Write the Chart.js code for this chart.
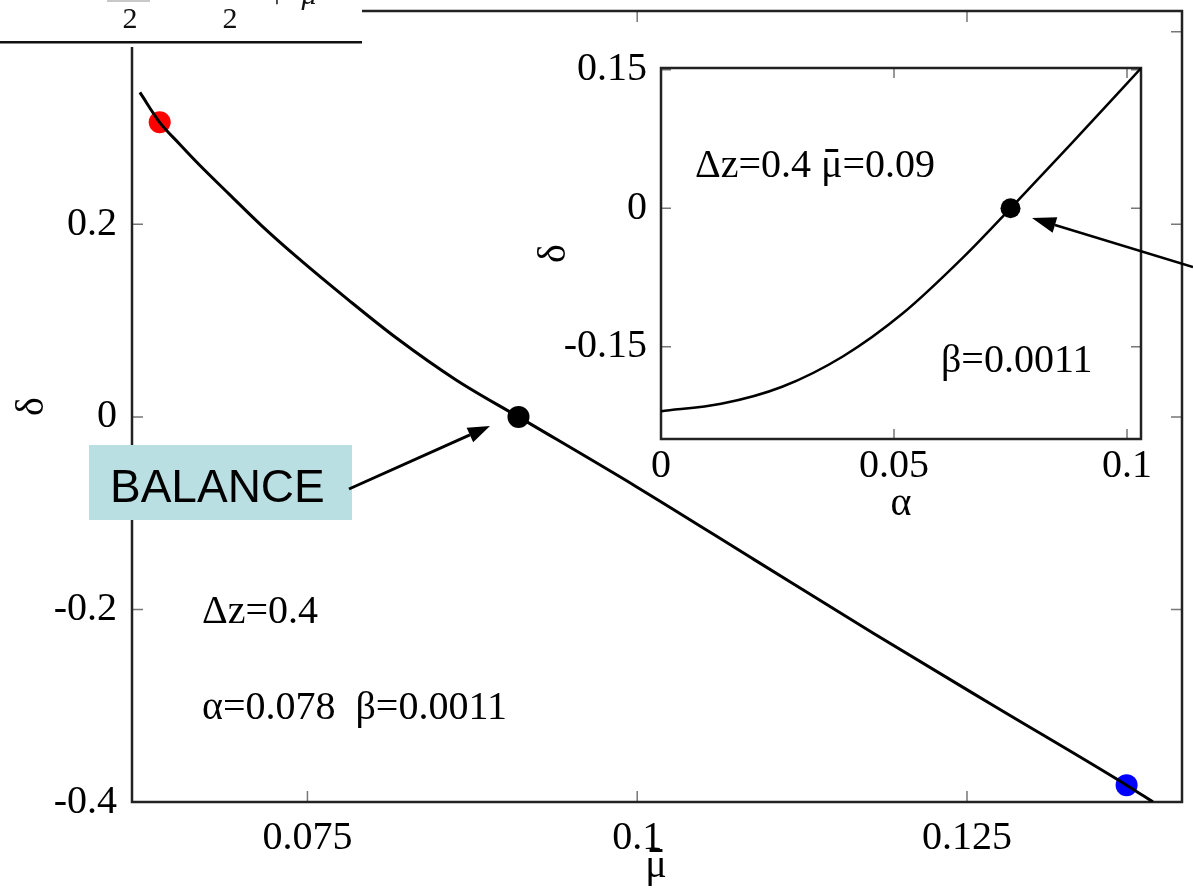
<!DOCTYPE html>
<html>
<head>
<meta charset="utf-8">
<script src="https://cdn.jsdelivr.net/npm/chart.js@4/dist/chart.umd.min.js"></script>
<style>
  html, body { margin: 0; padding: 0; background: #fff; }
  #wrap { position: relative; width: 1193px; height: 891px; overflow: hidden; }
  #main { position: absolute; left: 0; top: 0; }
  #inset { position: absolute; left: 530px; top: 40px; }
</style>
</head>
<body>
<div id="wrap">
  <canvas id="main" width="1193" height="891" style="width:1193px;height:891px"></canvas>
  <canvas id="inset" width="663" height="500" style="width:663px;height:500px"></canvas>
</div>
<script>
// main curve: delta against mu-bar
const muBar = [0.0623, 0.0638, 0.0653, 0.0668, 0.0691, 0.0715, 0.0743, 0.0781, 0.0818, 0.0863,
  0.0910, 0.0999, 0.1089, 0.1179, 0.1269, 0.1371, 0.1391];
const deltaMain = [0.337, 0.306, 0.2835, 0.2619, 0.2309, 0.199, 0.1649, 0.1216, 0.0814, 0.0381,
  0.0, -0.0722, -0.1485, -0.2247, -0.2990, -0.3825, -0.400];

// marked points on the main curve
const markMu = [0.0638, 0.0910, 0.1371];
const markDelta = [0.306, 0.0, -0.3825];
const markColors = ['#ff0000', '#000000', '#0000ff'];

// inset curve: delta against alpha
const alpha = [0, 0.0129, 0.026, 0.0391, 0.0519, 0.065, 0.075, 0.0878, 0.1030];
const deltaInset = [-0.2199, -0.2119, -0.1934, -0.1603, -0.1138, -0.0524, 0.0, 0.0688, 0.1517];
const insetMarkAlpha = [0.075];
const insetMarkDelta = [0.0];

// tick values and labels
const mainXTicks = [0.075, 0.1, 0.125];
const mainXLabels = ['0.075', '0.1', '0.125'];
const mainYTicks = [-0.4, -0.2, 0, 0.2, 0.4];
const mainYLabels = ['-0.4', '-0.2', '0', '0.2', '0.4'];
const insetXTicks = [0, 0.05, 0.1];
const insetXLabels = ['0', '0.05', '0.1'];
const insetYTicks = [-0.15, 0, 0.15];
const insetYLabels = ['-0.15', '0', '0.15'];

const serif = "'Liberation Serif', 'Times New Roman', serif";

function toPoints(xs, ys) {
  return xs.map((v, i) => ({x: v, y: ys[i]}));
}

// force the axis box size and drop the label overflow padding
function fixSize(size, horizontal) {
  return function(scale) {
    if (horizontal) scale.height = size; else scale.width = size;
    scale.paddingLeft = 0; scale.paddingRight = 0;
    scale.paddingTop = 0; scale.paddingBottom = 0;
  };
}

function setTicks(values) {
  return function(scale) {
    scale.ticks = values.map(v => ({value: v}));
  };
}

// gnuplot style frame with inward ticks on all four sides
function drawFrame(chart, xT, yT, len, tickColor) {
  const {ctx, chartArea: a, scales: {x, y}} = chart;
  ctx.save();
  ctx.strokeStyle = tickColor;
  ctx.lineWidth = 1.5;
  ctx.beginPath();
  xT.forEach(v => {
    const px = x.getPixelForValue(v);
    ctx.moveTo(px, a.bottom); ctx.lineTo(px, a.bottom - len);
    ctx.moveTo(px, a.top); ctx.lineTo(px, a.top + len);
  });
  yT.forEach(v => {
    const py = y.getPixelForValue(v);
    ctx.moveTo(a.left, py); ctx.lineTo(a.left + len, py);
    ctx.moveTo(a.right, py); ctx.lineTo(a.right - len, py);
  });
  ctx.stroke();
  ctx.strokeStyle = '#222';
  ctx.lineWidth = 2.5;
  ctx.strokeRect(a.left, a.top, a.width, a.height);
  ctx.restore();
}

function arrow(ctx, x1, y1, x2, y2, lw, hl, hw) {
  const ang = Math.atan2(y2 - y1, x2 - x1);
  const bx = x2 - hl * Math.cos(ang);
  const by = y2 - hl * Math.sin(ang);
  ctx.strokeStyle = '#000';
  ctx.fillStyle = '#000';
  ctx.lineWidth = lw;
  ctx.beginPath();
  ctx.moveTo(x1, y1);
  ctx.lineTo(bx, by);
  ctx.stroke();
  ctx.beginPath();
  ctx.moveTo(x2, y2);
  ctx.lineTo(bx + hw * Math.sin(ang), by - hw * Math.cos(ang));
  ctx.lineTo(bx - hw * Math.sin(ang), by + hw * Math.cos(ang));
  ctx.closePath();
  ctx.fill();
}

// mu with a bar drawn over it (left aligned at x, on baseline y)
function muBarText(ctx, x, y) {
  const w = ctx.measureText('μ').width;
  ctx.fillText('μ', x, y);
  ctx.fillRect(x + w * 0.2, y - 28, w * 0.6, 3);
  return w;
}

function markerSets(xs, ys, colors, r) {
  return xs.map((v, i) => ({
    data: [{x: v, y: ys[i]}],
    pointRadius: r,
    pointBackgroundColor: colors[i],
    pointBorderWidth: 0,
    showLine: false
  }));
}

// ---------- main chart ----------
const mainPlugin = {
  id: 'mainDecor',
  beforeDatasetsDraw(chart) {
    drawFrame(chart, mainXTicks, mainYTicks, 11, '#777');
  },
  afterDraw(chart) {
    const ctx = chart.ctx;
    ctx.save();
    ctx.fillStyle = '#000';
    ctx.textBaseline = 'alphabetic';
    ctx.textAlign = 'left';
    ctx.font = '40px ' + serif;
    ctx.fillText('Δz=0.4', 202, 623);
    ctx.fillText('α=0.078  β=0.0011', 202, 719);

    // x axis title: mu-bar, just under the "1" of 0.1
    const mw = ctx.measureText('μ').width;
    muBarText(ctx, 656 - mw / 2, 877);

    // BALANCE label and its arrow
    ctx.fillStyle = '#b9dfe3';
    ctx.fillRect(89, 445, 263, 75);
    ctx.fillStyle = '#000';
    ctx.font = "46px 'Liberation Sans', Arial, sans-serif";
    ctx.fillText('BALANCE', 110, 502);
    arrow(ctx, 349, 489, 490, 426, 3, 22, 8);

    // cut-out of the formula that sits over the top-left corner
    ctx.fillStyle = '#fff';
    ctx.fillRect(0, 0, 362, 47);
    ctx.fillStyle = '#c8c8c8';
    ctx.fillRect(107, 0, 43, 2);
    ctx.fillStyle = '#111';
    ctx.fillRect(0, 41, 362, 2.5);
    ctx.font = '30px ' + serif;
    ctx.textAlign = 'center';
    ctx.fillText('2', 130, 28);
    ctx.fillText('2', 230, 28);
    ctx.fillText('+', 277, 7);
    ctx.font = 'italic 30px ' + serif;
    ctx.fillText('μ', 309, 4);
    ctx.restore();
  }
};

new Chart(document.getElementById('main'), {
  type: 'scatter',
  data: {
    datasets: [
      {
        data: toPoints(muBar, deltaMain),
        showLine: true,
        borderColor: '#000',
        borderWidth: 3,
        pointRadius: 0,
        cubicInterpolationMode: 'monotone'
      }
    ].concat(markerSets(markMu, markDelta, markColors, 11))
  },
  options: {
    responsive: false,
    animation: false,
    events: [],
    layout: {padding: {top: 5, right: 1, left: 0, bottom: 0}},
    plugins: {legend: {display: false}, tooltip: {enabled: false}},
    scales: {
      x: {
        type: 'linear',
        min: 0.0617,
        max: 0.1413,
        afterBuildTicks: setTicks(mainXTicks),
        afterFit: fixSize(89, true),
        grid: {display: false, drawTicks: false},
        border: {display: false},
        ticks: {
          color: '#000',
          padding: 12,
          maxRotation: 0,
          autoSkip: false,
          font: {family: serif, size: 40},
          callback: (v, i) => mainXLabels[i]
        }
      },
      y: {
        type: 'linear',
        min: -0.4,
        max: 0.4216,
        afterBuildTicks: setTicks(mainYTicks),
        afterFit: fixSize(132, false),
        grid: {display: false, drawTicks: false},
        border: {display: false},
        ticks: {
          color: '#000',
          padding: 15,
          autoSkip: false,
          font: {family: serif, size: 40},
          callback: (v, i) => mainYLabels[i]
        },
        title: {
          display: true,
          text: 'δ',
          color: '#000',
          font: {family: serif, size: 40},
          padding: {top: 8, bottom: 0}
        }
      }
    }
  },
  plugins: [mainPlugin]
});

// ---------- inset chart ----------
const insetPlugin = {
  id: 'insetDecor',
  beforeDraw(chart) {
    const a = chart.chartArea;
    chart.ctx.save();
    chart.ctx.fillStyle = '#fff';
    chart.ctx.fillRect(a.left, a.top, a.width, a.height);
    chart.ctx.restore();
  },
  beforeDatasetsDraw(chart) {
    drawFrame(chart, insetXTicks, insetYTicks, 10, '#777');
  },
  afterDraw(chart) {
    const ctx = chart.ctx;
    ctx.save();
    ctx.fillStyle = '#000';
    ctx.textAlign = 'left';
    ctx.textBaseline = 'alphabetic';
    ctx.font = '40px ' + serif;
    // "Δz=0.4 μ̄=0.09" written in pieces so the bar sits over the mu
    let tx = 165;
    const head = 'Δz=0.4 ';
    ctx.fillText(head, tx, 137);
    tx += ctx.measureText(head).width;
    tx += muBarText(ctx, tx, 137);
    ctx.fillText('=0.09', tx, 137);
    ctx.fillText('β=0.0011', 411, 332);
    arrow(ctx, 663, 227, 502, 178, 2.5, 24, 8);
    ctx.restore();
  }
};

new Chart(document.getElementById('inset'), {
  type: 'scatter',
  data: {
    datasets: [
      {
        data: toPoints(alpha, deltaInset),
        showLine: true,
        borderColor: '#000',
        borderWidth: 2.5,
        pointRadius: 0,
        cubicInterpolationMode: 'monotone'
      }
    ].concat(markerSets(insetMarkAlpha, insetMarkDelta, ['#000000'], 10))
  },
  options: {
    responsive: false,
    animation: false,
    events: [],
    layout: {padding: {top: 28, right: 52, left: 0, bottom: 0}},
    plugins: {legend: {display: false}, tooltip: {enabled: false}},
    scales: {
      x: {
        type: 'linear',
        min: 0,
        max: 0.103,
        afterBuildTicks: setTicks(insetXTicks),
        afterFit: fixSize(101, true),
        grid: {display: false, drawTicks: false},
        border: {display: false},
        ticks: {
          color: '#000',
          padding: 3,
          maxRotation: 0,
          autoSkip: false,
          font: {family: serif, size: 40},
          callback: (v, i) => insetXLabels[i]
        },
        title: {
          display: true,
          text: 'α',
          color: '#000',
          font: {family: serif, size: 40},
          padding: {top: 0, bottom: 12}
        }
      },
      y: {
        type: 'linear',
        min: -0.25,
        max: 0.152,
        afterBuildTicks: setTicks(insetYTicks),
        afterFit: fixSize(131, false),
        grid: {display: false, drawTicks: false},
        border: {display: false},
        ticks: {
          color: '#000',
          padding: 14,
          autoSkip: false,
          font: {family: serif, size: 40},
          callback: (v, i) => insetYLabels[i]
        },
        title: {
          display: true,
          text: 'δ',
          color: '#000',
          font: {family: serif, size: 40},
          padding: {top: 0, bottom: 0}
        }
      }
    }
  },
  plugins: [insetPlugin]
});
</script>
</body>
</html>
